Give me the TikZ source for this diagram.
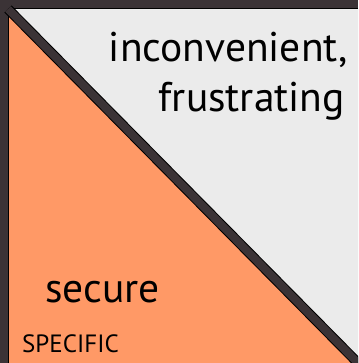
\documentclass[tikz,border=0pt]{standalone}
\usepackage{fontspec}
\setmainfont{PT Sans}
\begin{document}
\begin{tikzpicture}[x=1pt, y=1pt, line join=miter]
  \definecolor{framegray}{RGB}{59,51,54}
  \definecolor{secorange}{RGB}{255,153,102}
  \definecolor{paleback}{RGB}{235,235,235}
  \tikzset{bigword/.style={inner sep=0pt, font=\fontsize{41.5}{48}\selectfont},
    smallword/.style={inner sep=0pt, font=\fontsize{25}{28}\selectfont}}
  \useasboundingbox (0,0) rectangle (358,363);
  \clip (0,0) rectangle (358,363);
  \fill[framegray] (0,0) rectangle (358,363);
  \fill[secorange] (8,354) -- (8,0) -- (358,0) -- cycle;
  \fill[paleback] (8,354) -- (358,354) -- (358,0) -- cycle;
  \draw[black, line width=1pt] (8,0) -- (8,354) -- (358,354);
  \draw[black, line width=10pt] (8,354) -- (358,0);
  \draw[framegray, line width=8pt] (8,354) -- (358,0);
  \node[bigword, anchor=base east] (inconv) at (348,301) {inconvenient,};
  \node[bigword, anchor=base east] (frustr) at (345,251) {frustrating};
  \node[bigword, anchor=base west] (secure) at (45,60) {secure};
  \node[smallword, anchor=base west] (specif) at (22,10) {SPECIFIC};
\end{tikzpicture}
\end{document}
